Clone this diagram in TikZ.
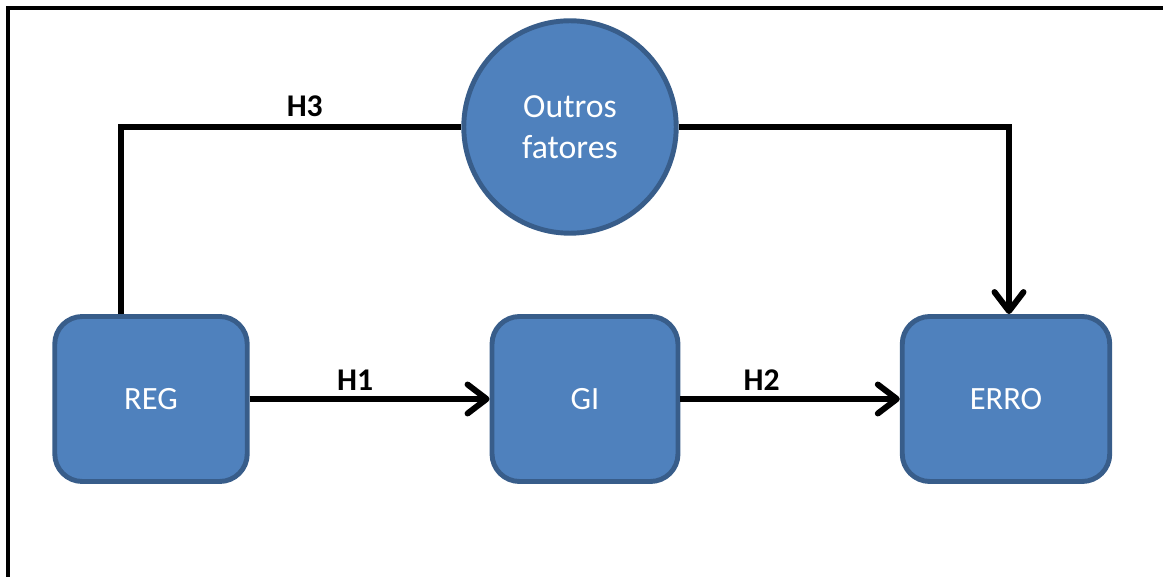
\documentclass[tikz,border=0pt]{standalone}
\usepackage{fontspec}
\setmainfont{Carlito}
\usetikzlibrary{
    arrows.meta,
    positioning,
    shapes.geometric
}
\definecolor{boxfill}{RGB}{79,129,189}
\definecolor{boxline}{RGB}{56,93,138}
\definecolor{ink}{RGB}{0,0,0}
\tikzset{
    line cap=round,
    line join=round,
    block/.style={
        rectangle,
        draw=boxline,
        line width=2.8pt,
        fill=boxfill,
        rounded corners=0.55cm,
        text=white,
        minimum height=3.3cm,
        font=\fontsize{18.5}{22}\selectfont,
        align=center
    },
    factor/.style={
        circle,
        draw=boxline,
        line width=2.8pt,
        fill=boxfill,
        text=white,
        minimum size=4.25cm,
        font=\fontsize{19.2}{23}\selectfont,
        align=center
    },
    link/.style={
        draw=ink,
        line width=3.4pt
    },
    linkarrow/.style={
        link,
        -{Straight Barb[length=0.38cm,width=0.58cm,round]}
    },
    hyp/.style={
        font=\fontsize{18}{21}\selectfont\bfseries,
        text=ink
    },
    frame/.style={
        draw=ink,
        line width=2pt
    }
}
\begin{document}
\begin{tikzpicture}[x=0.02cm, y=-0.02cm]

    % Page size
    \useasboundingbox (0,0) rectangle (1163,577);

    % Outer frame (top and left edges only)
    \coordinate (fbl) at (8,577);
    \coordinate (ftl) at (8,8);
    \coordinate (ftr) at (1163,8);
    \draw[frame] (fbl) -- (ftl) -- (ftr);

% Nodes
\node[block, minimum width=3.85cm] (reg) at (151,399) {REG};
\node[block, minimum width=3.72cm] (gi) at (585,399) {GI};
\node[block, minimum width=4.15cm] (erro) at (1006,399) {ERRO};
\node[factor] (outros) at (570,127) {Outros\\fatores};

% Hypotheses
\draw[linkarrow] (reg.east) -- (gi.west)
    node[pos=0.44, above=0pt, hyp] {H1};
\draw[linkarrow] (gi.east) -- (erro.west)
    node[pos=0.37, above=0pt, hyp] {H2};
\draw[link] ([xshift=-0.6cm]reg.north) |- (outros.west)
    node[pos=0.77, above=1pt, hyp] {H3};
\draw[linkarrow] (outros.east) -| ([xshift=0.06cm]erro.north);

\end{tikzpicture}
\end{document}
